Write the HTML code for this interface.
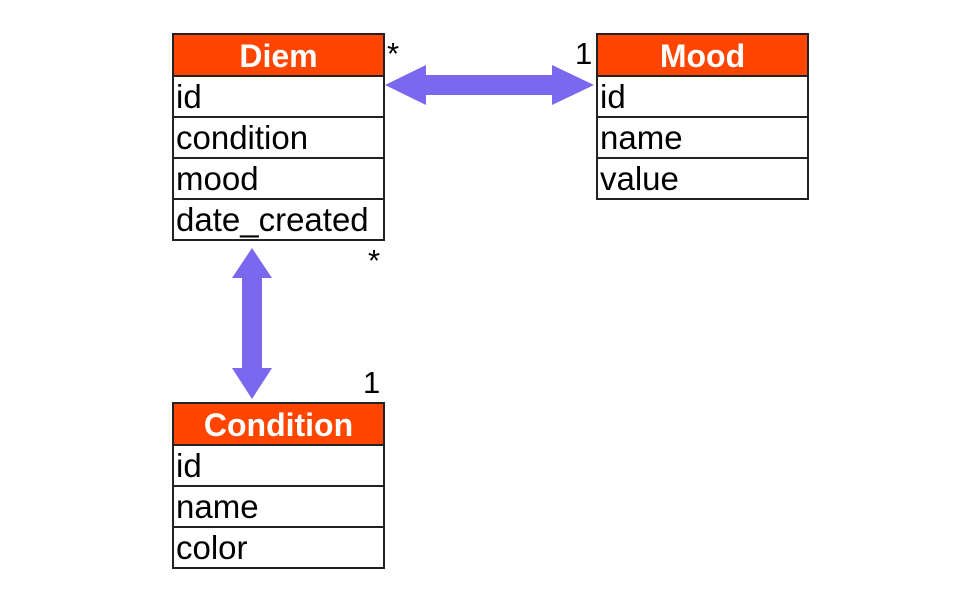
<!DOCTYPE html>
<html><head><style>
body{margin:0;width:980px;height:610px;background:#fff;position:relative;font-family:"Liberation Sans",sans-serif;overflow:hidden}
.t{position:absolute;width:213px;border:2px solid #222;box-sizing:border-box;background:#fff}
.h{height:40px;background:#ff4500;color:#fff;font-weight:bold;font-size:32px;text-align:center;line-height:42px;border-bottom:2px solid #222}
.r{height:39px;font-size:33px;line-height:40px;padding-left:2px;border-bottom:2px solid #222;color:#000}
.r:last-child{border-bottom:none}
.l{position:absolute;font-size:31px;color:#000}
</style></head><body>
<div class="t" style="left:172px;top:33px;height:208px">
<div class="h">Diem</div><div class="r">id</div><div class="r">condition</div><div class="r">mood</div><div class="r">date_created</div></div>
<div class="t" style="left:596px;top:33px;height:167px">
<div class="h">Mood</div><div class="r">id</div><div class="r">name</div><div class="r">value</div></div>
<div class="t" style="left:172px;top:402px;height:167px">
<div class="h">Condition</div><div class="r">id</div><div class="r">name</div><div class="r">color</div></div>
<div class="l" style="left:387px;top:36px">*</div>
<div class="l" style="left:575px;top:36px">1</div>
<div class="l" style="left:368px;top:243px">*</div>
<div class="l" style="left:363px;top:365px">1</div>
<svg width="980" height="610" style="position:absolute;left:0;top:0">
<polygon fill="#7b68ee" points="385,85 426,65 426,75 552,75 552,65 594,85 552,105 552,95 426,95 426,105"/>
<polygon fill="#7b68ee" points="252,248 272,278 262,278 262,368 272,368 252,399 232,368 242,368 242,278 232,278"/>
</svg>
</body></html>
